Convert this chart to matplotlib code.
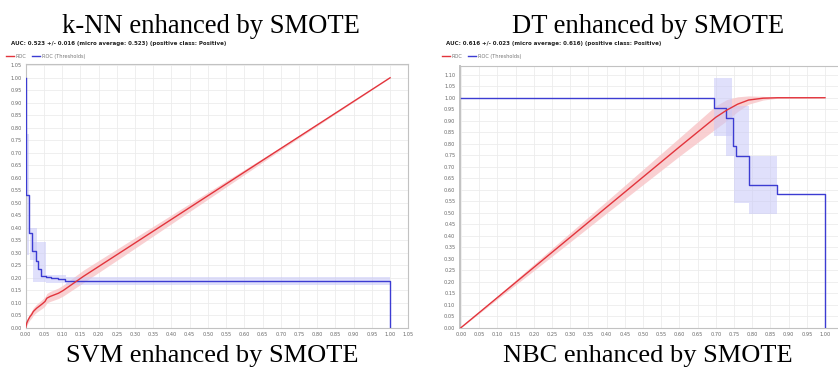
import numpy as np
import matplotlib.pyplot as plt

# titles and header texts
top_titles = ["k-NN enhanced by SMOTE", "DT enhanced by SMOTE"]
bottom_titles = ["SVM enhanced by SMOTE", "NBC enhanced by SMOTE"]
auc_texts = [
    "AUC: 0.523 +/- 0.016 (micro average: 0.523) (positive class: Positive)",
    "AUC: 0.616 +/- 0.023 (micro average: 0.616) (positive class: Positive)",
]
legend_labels = ["ROC", "ROC (Thresholds)"]

# left panel: ROC curve (mean) and its spread
knn_roc_x = [0, 0.003, 0.007, 0.012, 0.016, 0.021, 0.030, 0.039, 0.046, 0.053,
             0.058, 0.067, 0.090, 0.103, 0.158, 0.30, 0.50, 0.70, 1.0]
knn_roc_y = [0.0, 0.019, 0.032, 0.045, 0.052, 0.065, 0.078, 0.088, 0.096, 0.105,
             0.118, 0.125, 0.138, 0.149, 0.205, 0.339, 0.528, 0.717, 1.0]
knn_roc_spread = [0.008, 0.010, 0.012, 0.013, 0.014, 0.015, 0.016, 0.017, 0.018, 0.018,
                  0.019, 0.020, 0.021, 0.022, 0.025, 0.021, 0.014, 0.006, 0.0]

# left panel: ROC (Thresholds), step curve
knn_thr_x = [0, 0.002, 0.010, 0.018, 0.027, 0.034, 0.043, 0.055, 0.070, 0.090, 0.108, 1.0]
knn_thr_y = [1.0, 0.533, 0.380, 0.305, 0.267, 0.233, 0.207, 0.203, 0.200, 0.195, 0.187, 0.0]
# spread boxes: x start, x end, low, high
knn_thr_boxes = [
    (0.000, 0.010, 0.290, 0.777),
    (0.012, 0.030, 0.270, 0.397),
    (0.021, 0.055, 0.184, 0.344),
    (0.055, 0.110, 0.178, 0.212),
    (0.110, 1.000, 0.172, 0.201),
]

# right panel: ROC curve (mean) and its spread
dt_roc_x = [0, 0.2, 0.4, 0.6, 0.70, 0.73, 0.76, 0.79, 0.83, 0.87, 1.0]
dt_roc_y = [0, 0.262, 0.524, 0.786, 0.915, 0.946, 0.972, 0.990, 0.998, 1.0, 1.0]
dt_roc_spread = [0, 0.014, 0.026, 0.040, 0.050, 0.046, 0.032, 0.018, 0.008, 0.002, 0]

# right panel: ROC (Thresholds)
dt_thr_x = [0, 0.695, 0.728, 0.746, 0.755, 0.790, 0.868, 1.0]
dt_thr_y = [1.0, 0.957, 0.914, 0.790, 0.746, 0.620, 0.580, 0.0]
dt_thr_boxes = [
    (0.696, 0.745, 0.833, 1.086),
    (0.729, 0.792, 0.746, 0.962),
    (0.749, 0.792, 0.542, 0.746),
    (0.792, 0.869, 0.494, 0.746),
]

RED = "#e2343c"
RED_BAND = "#f8c8ca"
BLUE = "#3c3cd2"
BLUE_BAND = "#c8c8f8"

W, H = 838, 369
fig = plt.figure(figsize=(W / 100, H / 100), dpi=100)


def px(x, y):
    return x / W, 1 - y / H


def draw_panel(rect, xlim, ylim, yticks_max, xticks_max,
               roc_x, roc_y, roc_spread, thr_x, thr_y, thr_boxes):
    ax = fig.add_axes(rect)
    rx = np.array(roc_x)
    ry = np.array(roc_y)
    rs = np.array(roc_spread)
    ax.fill_between(rx, ry - rs, ry + rs, color=RED_BAND, lw=0, alpha=0.85, zorder=2)
    for x0, x1, lo, hi in thr_boxes:
        ax.fill_between([x0, x1], [lo, lo], [hi, hi], color=BLUE_BAND, lw=0,
                        alpha=0.55, zorder=2)
    l1, = ax.plot(rx, ry, color=RED, lw=1.0, zorder=4)
    l2, = ax.plot(thr_x, thr_y, color=BLUE, lw=1.0, drawstyle="steps-post", zorder=3)

    xt = np.arange(0, xticks_max + 1e-6, 0.05)
    yt = np.arange(0, yticks_max + 1e-6, 0.05)
    ax.set_xticks(xt)
    ax.set_yticks(yt)
    ax.set_xticklabels(["%.2f" % v for v in xt])
    ax.set_yticklabels(["%.2f" % v for v in yt])
    ax.set_xlim(*xlim)
    ax.set_ylim(*ylim)
    ax.tick_params(length=0, labelsize=3.6, labelcolor="#666666", pad=3)
    ax.grid(True, color="#ececec", lw=0.6)
    ax.set_axisbelow(True)
    for s in ax.spines.values():
        s.set_color("#c2c2c2")
        s.set_linewidth(0.8)
    return ax, l1, l2


# left panel
r0 = px(25.7, 327.7)
r1 = px(408.3, 64.3)
ax_l, h1, h2 = draw_panel([r0[0], r0[1], r1[0] - r0[0], r1[1] - r0[1]],
                          (0, 1.05), (0, 1.054), 1.05, 1.05,
                          knn_roc_x, knn_roc_y, knn_roc_spread,
                          knn_thr_x, knn_thr_y, knn_thr_boxes)

# right panel (runs past the right border of the image)
q0 = px(459.5, 327.7)
q1 = px(843.2, 66.0)
ax_r, g1, g2 = draw_panel([q0[0], q0[1], q1[0] - q0[0], q1[1] - q0[1]],
                          (-0.004, 1.05), (0, 1.138), 1.10, 1.00,
                          dt_roc_x, dt_roc_y, dt_roc_spread,
                          dt_thr_x, dt_thr_y, dt_thr_boxes)
ax_r.spines["left"].set_linewidth(1.4)

serif = ["Liberation Serif", "DejaVu Serif"]
for cx, t in zip([211, 648], top_titles):
    fig.text(*px(cx, 33), t, ha="center", va="baseline", fontsize=19.2, family=serif)
for cx, t in zip([212, 648], bottom_titles):
    fig.text(*px(cx, 362), t, ha="center", va="baseline", fontsize=19.0, family=serif)

for x, t in zip([11, 446], auc_texts):
    fig.text(*px(x, 43), t, ha="left", va="center", fontsize=4.0, weight="bold",
             color="#222222")

for ax, hs, x in [(ax_l, (h1, h2), 6), (ax_r, (g1, g2), 442)]:
    ax.legend(hs, legend_labels, loc="center left", bbox_to_anchor=px(x, 56.5),
              bbox_transform=fig.transFigure, ncol=2, frameon=False, fontsize=3.6,
              handlelength=1.6, handletextpad=0.4, columnspacing=1.0,
              labelcolor="#777777", borderaxespad=0, borderpad=0)

fig.savefig("out.png", dpi=100)
